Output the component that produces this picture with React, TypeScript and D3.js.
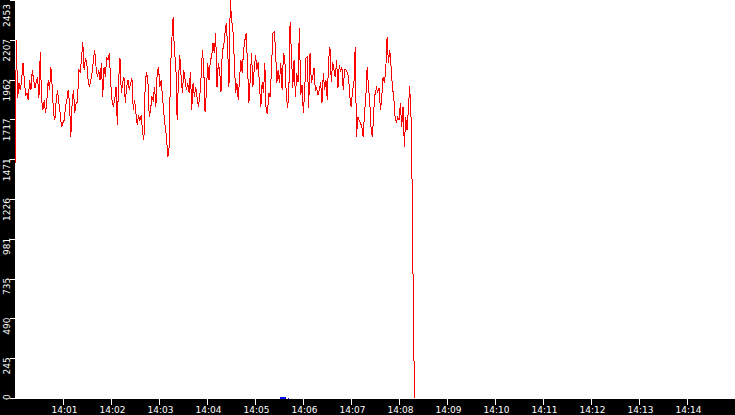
import * as React from 'react';
import * as d3 from 'd3';

const WIDTH = 735;
const HEIGHT = 415;

const parseTime = d3.timeParse('%H:%M:%S');
const parseMinute = d3.timeParse('%H:%M');

// visible time window and the first / last sample of the trace
const WINDOW_START = '14:00:00';
const WINDOW_END = '14:15:00';
const SAMPLE_START = '14:00:00';
const SAMPLE_END = '14:08:20';

const X_TICKS = [
  '14:01', '14:02', '14:03', '14:04', '14:05', '14:06', '14:07',
  '14:08', '14:09', '14:10', '14:11', '14:12', '14:13', '14:14',
];
const Y_TICKS = [0, 245, 490, 735, 981, 1226, 1471, 1717, 1962, 2207, 2453];

// trace values, evenly sampled between SAMPLE_START and SAMPLE_END
const trace1400 = [
  1436, 2206, 1849, 1941, 1898, 1960, 2065, 1960, 1867, 1880, 1837,
  1960, 1898, 2022, 1960, 1911, 1948, 1978, 1849, 2132,
  1837, 1775, 1837, 1757, 1837, 1960, 1898, 2040, 1917, 1757,
  1713, 1837, 1898, 1818, 1757, 1670, 1695, 1713, 1794, 1837,
  1898, 1818, 1609, 1818, 1898, 1757, 1818, 1824, 2022, 2009,
  2083, 2194, 2022, 2096, 2065, 1960, 1917, 1960, 2003, 2083, 2145,
];
const trace1401 = [
  2040, 1978, 2022, 1960, 2065, 1855, 2040, 1978, 2102, 2083,
  2126, 1941, 1837, 1794, 1837, 1917, 1683, 1960, 2096, 1880,
  1941, 1978, 1818, 1917, 1960, 1898, 1941, 1972, 1775, 1837,
  1757, 1683, 1744, 1713, 1744, 1633, 1590, 1941, 2009, 1960,
  1732, 1775, 1855, 1837, 1917, 1794, 2003, 2040, 1917, 1960,
  1855, 1757, 1670, 1609, 1485, 1547, 2022, 2206, 2348, 2126,
];
const trace1403 = [
  2065, 1713, 1960, 2114, 1978, 1880, 2022, 1960, 1898, 1941,
  1880, 2009, 1775, 1941, 1855, 1917, 1855, 1794, 1855, 1978,
  2145, 2040, 1763, 1880, 2065, 1960, 2083, 2102, 2188, 2126,
  2250, 1917, 2065, 2022, 1886, 2145, 2163, 2250, 2311, 2163,
  1917, 2453, 2330, 2268, 2083, 1880, 1941, 1837, 1978, 2083,
  2003, 2145, 2206, 2250, 2040, 1818, 1960, 2126, 1917, 2022,
];
const trace1405 = [
  2114, 2022, 2071, 1917, 1794, 1948, 1880, 2065, 1763, 1757,
  1880, 1855, 2022, 2250, 2256, 2163, 1941, 2022, 1941, 2065,
  1898, 2126, 2096, 1898, 1787, 1855, 2317, 2126, 1911, 2083,
  1855, 2003, 1948, 2280, 1867, 1929, 1757, 1898, 2096, 2102,
  1787, 2126, 1941, 1978, 2034, 1898, 1911, 1867, 1898, 1948,
  1818, 2003, 1898, 1960, 1837, 2083, 2163, 1948, 2071, 2022,
];
const trace1406 = [
  1978, 2083, 1911, 2052, 2009, 2040, 1898, 2022, 2022, 2009,
  1978, 1855, 1794, 1898, 1929, 2163, 1609, 1732, 1713, 1695,
  1670, 1609, 1757, 1855, 2040, 1917, 1818, 1652, 1609, 1775,
  1880, 1911, 1886, 1911, 1775, 1855, 1978, 1941, 2022, 2225,
  2065, 2145, 2040, 1917, 1855, 1732, 1695, 1732, 1713, 1818,
  1670, 1794, 1547, 1732, 1652, 1775, 1923, 1732,
  1233, 314, 0,
];

// small blue event mark on the time axis
const MARKERS = [['14:05:31', '14:05:43']];

const FONT = '"DejaVu Sans", sans-serif';

export default function App() {
  const values = [...trace1400, ...trace1401, ...trace1403, ...trace1405, ...trace1406];
  const t0 = parseTime(SAMPLE_START)!.getTime();
  const t1 = parseTime(SAMPLE_END)!.getTime();
  const step = (t1 - t0) / (values.length - 1);
  const data = values.map((v, i) => ({ t: new Date(t0 + i * step), v }));

  const x = d3.scaleTime()
    .domain([parseTime(WINDOW_START)!, parseTime(WINDOW_END)!])
    .range([15, WIDTH]);
  const y = d3.scaleLinear()
    .domain([0, d3.max(Y_TICKS)!])
    .range([398, 0]);

  const line = d3.line<{ t: Date; v: number }>()
    .x((d) => x(d.t))
    .y((d) => y(d.v));

  return (
    <>
      <style>{'body{margin:0}'}</style>
      <svg width={WIDTH} height={HEIGHT} style={{ display: 'block', background: '#fff' }}>
        <path d={line(data)!} fill="none" stroke="#ff0000" strokeWidth={1} shapeRendering="crispEdges" />

        {MARKERS.map(([a, b], i) => {
          const xa = Math.round(x(parseTime(a)!));
          const xb = Math.round(x(parseTime(b)!));
          return (
            <g key={i} fill="#0000ff">
              <rect x={xa} y={397} width={xb - xa - 3} height={2} />
              <rect x={xb - 1} y={398} width={1} height={1} />
            </g>
          );
        })}

        {/* left axis strip */}
        <rect x={0} y={0} width={15} height={HEIGHT} fill="#000" />
        {/* bottom axis strip */}
        <rect x={0} y={399} width={WIDTH} height={HEIGHT - 399} fill="#000" />

        {Y_TICKS.map((v) => {
          const ty = y(v);
          const len = String(v).length * 5.73;
          const top = Math.max(4, Math.min(ty - 1, 400 - len));
          return (
            <g key={v}>
              <line x1={10} x2={15} y1={Math.round(ty) + 0.5} y2={Math.round(ty) + 0.5} stroke="#fff" strokeWidth={1} />
              <text transform={`translate(9.5,${top}) rotate(-90)`} textAnchor="end"
                fill="#fff" fontFamily={FONT} fontSize={9}>{v}</text>
            </g>
          );
        })}

        {X_TICKS.map((m) => {
          const tx = Math.round(x(parseMinute(m)!)) + 0.5;
          return (
            <g key={m}>
              <line x1={tx} x2={tx} y1={399} y2={405} stroke="#fff" strokeWidth={1} />
              <text x={tx + 1} y={413} textAnchor="middle" fill="#fff" fontFamily={FONT} fontSize={9}>{m}</text>
            </g>
          );
        })}
      </svg>
    </>
  );
}
